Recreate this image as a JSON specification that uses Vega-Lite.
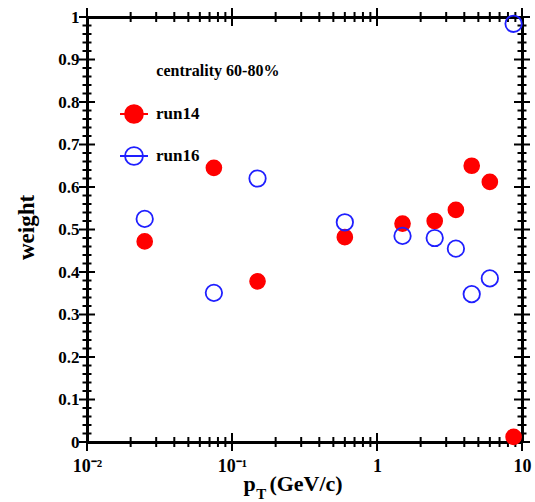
{
  "$schema": "https://vega.github.io/schema/vega-lite/v6.json",
  "width": 435,
  "height": 425,
  "autosize": {"type": "none"},
  "padding": {"left": 87, "top": 17, "right": 13, "bottom": 60},
  "background": "white",
  "config": {
    "view": {"stroke": null},
    "axis": {
      "grid": false,
      "ticks": false,
      "tickSize": 0,
      "domainColor": "black",
      "domainWidth": 3,
      "labelFont": "Liberation Serif",
      "labelFontWeight": "bold",
      "labelColor": "black",
      "titleFont": "Liberation Serif",
      "titleFontWeight": "bold",
      "titleColor": "black",
      "labelOverlap": false,
      "labelFlush": false,
      "labelBound": false
    }
  },
  "datasets": {
    "weights": [
      {"run": "run14", "pt": 0.025, "weight": 0.472},
      {"run": "run14", "pt": 0.075, "weight": 0.645},
      {"run": "run14", "pt": 0.15, "weight": 0.378},
      {"run": "run14", "pt": 0.6, "weight": 0.482},
      {"run": "run14", "pt": 1.5, "weight": 0.514},
      {"run": "run14", "pt": 2.5, "weight": 0.52},
      {"run": "run14", "pt": 3.5, "weight": 0.546},
      {"run": "run14", "pt": 4.5, "weight": 0.65},
      {"run": "run14", "pt": 6, "weight": 0.612},
      {"run": "run14", "pt": 8.75, "weight": 0.012},
      {"run": "run16", "pt": 0.025, "weight": 0.525},
      {"run": "run16", "pt": 0.075, "weight": 0.351},
      {"run": "run16", "pt": 0.15, "weight": 0.62},
      {"run": "run16", "pt": 0.6, "weight": 0.517},
      {"run": "run16", "pt": 1.5, "weight": 0.485},
      {"run": "run16", "pt": 2.5, "weight": 0.48},
      {"run": "run16", "pt": 3.5, "weight": 0.455},
      {"run": "run16", "pt": 4.5, "weight": 0.348},
      {"run": "run16", "pt": 6, "weight": 0.385},
      {"run": "run16", "pt": 8.75, "weight": 0.984}
    ],
    "xticks": [
      {"v": 0.01}, {"v": 0.02}, {"v": 0.03}, {"v": 0.04}, {"v": 0.05}, {"v": 0.06}, {"v": 0.07}, {"v": 0.08}, {"v": 0.09},
      {"v": 0.1}, {"v": 0.2}, {"v": 0.3}, {"v": 0.4}, {"v": 0.5}, {"v": 0.6}, {"v": 0.7}, {"v": 0.8}, {"v": 0.9},
      {"v": 1}, {"v": 2}, {"v": 3}, {"v": 4}, {"v": 5}, {"v": 6}, {"v": 7}, {"v": 8}, {"v": 9}, {"v": 10}
    ],
    "yticks": [
      {"v": 0}, {"v": 0.02}, {"v": 0.04}, {"v": 0.06}, {"v": 0.08}, {"v": 0.1}, {"v": 0.12}, {"v": 0.14}, {"v": 0.16}, {"v": 0.18},
      {"v": 0.2}, {"v": 0.22}, {"v": 0.24}, {"v": 0.26}, {"v": 0.28}, {"v": 0.3}, {"v": 0.32}, {"v": 0.34}, {"v": 0.36}, {"v": 0.38},
      {"v": 0.4}, {"v": 0.42}, {"v": 0.44}, {"v": 0.46}, {"v": 0.48}, {"v": 0.5}, {"v": 0.52}, {"v": 0.54}, {"v": 0.56}, {"v": 0.58},
      {"v": 0.6}, {"v": 0.62}, {"v": 0.64}, {"v": 0.66}, {"v": 0.68}, {"v": 0.7}, {"v": 0.72}, {"v": 0.74}, {"v": 0.76}, {"v": 0.78},
      {"v": 0.8}, {"v": 0.82}, {"v": 0.84}, {"v": 0.86}, {"v": 0.88}, {"v": 0.9}, {"v": 0.92}, {"v": 0.94}, {"v": 0.96}, {"v": 0.98}, {"v": 1}
    ]
  },
  "resolve": {"axis": {"x": "independent", "y": "independent"}},
  "layer": [
    {
      "data": {"name": "xticks"},
      "mark": {"type": "tick", "orient": "vertical", "thickness": 2, "color": "black", "opacity": 1},
      "encoding": {
        "x": {"field": "v", "type": "quantitative", "scale": {"type": "log", "domain": [0.01, 10], "nice": false}, "axis": null},
        "y": {"datum": 0, "type": "quantitative", "scale": {"domain": [0, 1], "nice": false, "zero": false}, "axis": null},
        "size": {"condition": {"test": "indexof([0.01, 0.1, 1, 10], datum.v) >= 0", "value": 18}, "value": 10}
      }
    },
    {
      "data": {"name": "xticks"},
      "mark": {"type": "tick", "orient": "vertical", "thickness": 2, "color": "black", "opacity": 1},
      "encoding": {
        "x": {"field": "v", "type": "quantitative", "scale": {"type": "log", "domain": [0.01, 10], "nice": false}, "axis": null},
        "y": {"datum": 1, "type": "quantitative", "scale": {"domain": [0, 1], "nice": false, "zero": false}, "axis": null},
        "size": {"condition": {"test": "indexof([0.01, 0.1, 1, 10], datum.v) >= 0", "value": 18}, "value": 10}
      }
    },
    {
      "data": {"name": "yticks"},
      "mark": {"type": "tick", "orient": "horizontal", "thickness": 2, "color": "black", "opacity": 1},
      "encoding": {
        "x": {"datum": 0.01, "type": "quantitative", "scale": {"type": "log", "domain": [0.01, 10], "nice": false}, "axis": null},
        "y": {"field": "v", "type": "quantitative", "scale": {"domain": [0, 1], "nice": false, "zero": false}, "axis": null},
        "size": {"condition": {"test": "abs(datum.v * 10 - round(datum.v * 10)) < 0.001", "value": 16}, "value": 9}
      }
    },
    {
      "data": {"name": "yticks"},
      "mark": {"type": "tick", "orient": "horizontal", "thickness": 2, "color": "black", "opacity": 1},
      "encoding": {
        "x": {"datum": 10, "type": "quantitative", "scale": {"type": "log", "domain": [0.01, 10], "nice": false}, "axis": null},
        "y": {"field": "v", "type": "quantitative", "scale": {"domain": [0, 1], "nice": false, "zero": false}, "axis": null},
        "size": {"condition": {"test": "abs(datum.v * 10 - round(datum.v * 10)) < 0.001", "value": 16}, "value": 9}
      }
    },
    {
      "data": {"name": "weights"},
      "transform": [{"filter": "datum.run == 'run14'"}],
      "mark": {"type": "point", "shape": "circle", "size": 230, "strokeWidth": 1.5, "opacity": 1},
      "encoding": {
        "x": {
          "field": "pt", "type": "quantitative",
          "scale": {"type": "log", "domain": [0.01, 10], "nice": false},
          "axis": {
            "orient": "bottom",
            "values": [0.01, 0.1, 1, 10],
            "labelExpr": "datum.value == 0.01 ? '10⁻²' : datum.value == 0.1 ? '10⁻¹' : datum.value == 1 ? '1' : '10'",
            "labelFontSize": 18,
            "labelPadding": 15,
            "title": null
          }
        },
        "y": {
          "field": "weight", "type": "quantitative",
          "scale": {"domain": [0, 1], "nice": false, "zero": false},
          "axis": {
            "orient": "left",
            "values": [0, 0.1, 0.2, 0.3, 0.4, 0.5, 0.6, 0.7, 0.8, 0.9, 1],
            "labelExpr": "format(datum.value, '~g')",
            "labelFontSize": 17,
            "labelPadding": 8,
            "title": "weight",
            "titleFontSize": 23,
            "titleAngle": 270,
            "titleAlign": "center",
            "titleBaseline": "alphabetic",
            "titleX": -54,
            "titleY": 210
          }
        },
        "fill": {
          "field": "run", "type": "nominal",
          "scale": {"domain": ["run14", "run16"], "range": ["#ff0000", "transparent"]},
          "legend": {
            "title": null, "orient": "none", "legendX": 32, "legendY": 82,
            "symbolType": "M-1,0H1M0.64,0A0.64,0.64,0,1,1,-0.64,0A0.64,0.64,0,1,1,0.64,0Z",
            "symbolSize": 784, "symbolStrokeWidth": 1.8, "symbolOpacity": 1,
            "labelFont": "Liberation Serif", "labelFontWeight": "bold", "labelFontSize": 17,
            "labelColor": "black", "labelOffset": 7, "rowPadding": 14, "padding": 0
          }
        },
        "stroke": {
          "field": "run", "type": "nominal",
          "scale": {"domain": ["run14", "run16"], "range": ["#ff0000", "#1f1fff"]},
          "legend": {
            "title": null, "orient": "none", "legendX": 32, "legendY": 82,
            "symbolType": "M-1,0H1M0.64,0A0.64,0.64,0,1,1,-0.64,0A0.64,0.64,0,1,1,0.64,0Z",
            "symbolSize": 784, "symbolStrokeWidth": 1.8, "symbolOpacity": 1,
            "labelFont": "Liberation Serif", "labelFontWeight": "bold", "labelFontSize": 17,
            "labelColor": "black", "labelOffset": 7, "rowPadding": 14, "padding": 0
          }
        }
      }
    },
    {
      "data": {"name": "weights"},
      "transform": [{"filter": "datum.run == 'run16'"}],
      "mark": {"type": "point", "shape": "circle", "size": 270, "strokeWidth": 1.8, "opacity": 1},
      "encoding": {
        "x": {
          "field": "pt", "type": "quantitative",
          "scale": {"type": "log", "domain": [0.01, 10], "nice": false},
          "axis": {"orient": "top", "values": [0.01, 0.1, 1, 10], "labels": false, "title": null}
        },
        "y": {
          "field": "weight", "type": "quantitative",
          "scale": {"domain": [0, 1], "nice": false, "zero": false},
          "axis": {"orient": "right", "values": [0, 0.5, 1], "labels": false, "title": null}
        },
        "fill": {
          "field": "run", "type": "nominal",
          "scale": {"domain": ["run14", "run16"], "range": ["#ff0000", "transparent"]},
          "legend": {
            "title": null, "orient": "none", "legendX": 32, "legendY": 82,
            "symbolType": "M-1,0H1M0.64,0A0.64,0.64,0,1,1,-0.64,0A0.64,0.64,0,1,1,0.64,0Z",
            "symbolSize": 784, "symbolStrokeWidth": 1.8, "symbolOpacity": 1,
            "labelFont": "Liberation Serif", "labelFontWeight": "bold", "labelFontSize": 17,
            "labelColor": "black", "labelOffset": 7, "rowPadding": 14, "padding": 0
          }
        },
        "stroke": {
          "field": "run", "type": "nominal",
          "scale": {"domain": ["run14", "run16"], "range": ["#ff0000", "#1f1fff"]},
          "legend": {
            "title": null, "orient": "none", "legendX": 32, "legendY": 82,
            "symbolType": "M-1,0H1M0.64,0A0.64,0.64,0,1,1,-0.64,0A0.64,0.64,0,1,1,0.64,0Z",
            "symbolSize": 784, "symbolStrokeWidth": 1.8, "symbolOpacity": 1,
            "labelFont": "Liberation Serif", "labelFontWeight": "bold", "labelFontSize": 17,
            "labelColor": "black", "labelOffset": 7, "rowPadding": 14, "padding": 0
          }
        }
      }
    },
    {
      "data": {"values": [{}]},
      "mark": {"type": "text", "font": "Liberation Serif", "fontWeight": "bold", "fontSize": 16, "align": "left", "baseline": "alphabetic", "color": "black"},
      "encoding": {
        "x": {"datum": 0.03006, "type": "quantitative", "scale": {"type": "log", "domain": [0.01, 10], "nice": false}, "axis": null},
        "y": {"datum": 0.862, "type": "quantitative", "scale": {"domain": [0, 1], "nice": false, "zero": false}, "axis": null},
        "text": {"value": "centrality 60-80%"}
      }
    },
    {
      "data": {"values": [{}]},
      "mark": {"type": "text", "font": "Liberation Serif", "fontWeight": "bold", "fontSize": 22, "align": "left", "baseline": "alphabetic", "color": "black"},
      "encoding": {
        "x": {"datum": 0.1199, "type": "quantitative", "scale": {"type": "log", "domain": [0.01, 10], "nice": false}, "axis": null},
        "y": {"datum": -0.1146, "type": "quantitative", "scale": {"domain": [0, 1], "nice": false, "zero": false}, "axis": null},
        "text": {"value": "p"}
      }
    },
    {
      "data": {"values": [{}]},
      "mark": {"type": "text", "font": "Liberation Serif", "fontWeight": "bold", "fontSize": 15, "align": "left", "baseline": "alphabetic", "color": "black"},
      "encoding": {
        "x": {"datum": 0.147, "type": "quantitative", "scale": {"type": "log", "domain": [0.01, 10], "nice": false}, "axis": null},
        "y": {"datum": -0.1334, "type": "quantitative", "scale": {"domain": [0, 1], "nice": false, "zero": false}, "axis": null},
        "text": {"value": "T"}
      }
    },
    {
      "data": {"values": [{}]},
      "mark": {"type": "text", "font": "Liberation Serif", "fontWeight": "bold", "fontSize": 22, "align": "left", "baseline": "alphabetic", "color": "black"},
      "encoding": {
        "x": {"datum": 0.1811, "type": "quantitative", "scale": {"type": "log", "domain": [0.01, 10], "nice": false}, "axis": null},
        "y": {"datum": -0.1146, "type": "quantitative", "scale": {"domain": [0, 1], "nice": false, "zero": false}, "axis": null},
        "text": {"value": "(GeV/c)"}
      }
    }
  ]
}
